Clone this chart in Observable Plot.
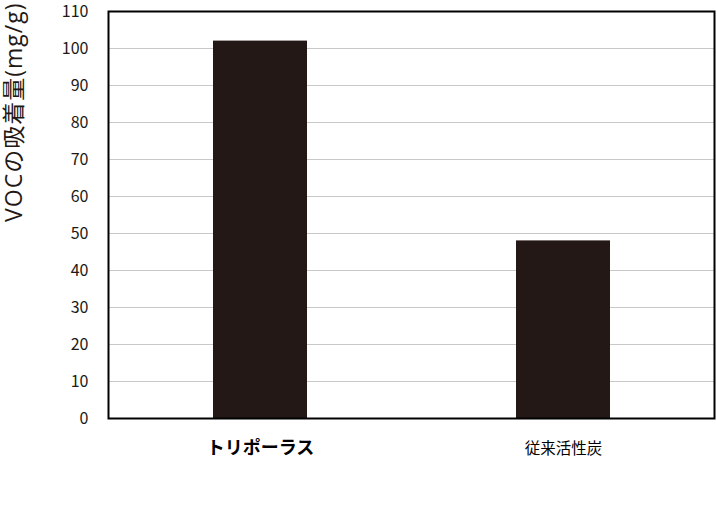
<!DOCTYPE html>
<html>
<head>
<meta charset="utf-8">
<script src="https://cdn.jsdelivr.net/npm/d3@7"></script>
<script src="https://cdn.jsdelivr.net/npm/@observablehq/plot@0.6"></script>
<style>
  html, body { margin: 0; padding: 0; background: #fff; }
</style>
</head>
<body>
<div id="chart"></div>
<script>
const categories = ["トリポーラス", "従来活性炭"];
const values = [102, 48];
const yTicks = [0, 10, 20, 30, 40, 50, 60, 70, 80, 90, 100, 110];
const gridTicks = [10, 20, 30, 40, 50, 60, 70, 80, 90, 100];
const yLabel = "VOCの吸着量(mg/g)";

const data = categories.map((c, i) => ({cat: c, val: values[i]}));

const chart = Plot.plot({
  width: 717,
  height: 507,
  marginLeft: 108,
  marginRight: 3,
  marginTop: 11,
  marginBottom: 89,
  style: {fontFamily: "'Noto Sans CJK JP', sans-serif", background: "#fff", color: "#231815"},
  x: {domain: categories, paddingInner: 0.69, paddingOuter: 0.342, axis: null},
  y: {domain: [0, 110], axis: null},
  marks: [
    Plot.gridY(gridTicks, {stroke: "#c8c8c8", strokeOpacity: 1, strokeWidth: 1}),
    Plot.barY(data, {x: "cat", y: "val", fill: "#231815"}),
    Plot.frame({stroke: "#000", strokeWidth: 2}),
    Plot.axisY(yTicks, {tickSize: 0, tickPadding: 20, fontSize: 16, label: null, fill: "#231815"}),
    Plot.text([data[0]], {x: "cat", y: 0, text: "cat", dy: 30, fontSize: 18, fontWeight: "bold", fill: "#000"}),
    Plot.text([data[1]], {x: "cat", y: 0, text: "cat", dy: 31, fontSize: 15.5, fill: "#000"}),
    Plot.text([yLabel], {frameAnchor: "top-left", dx: -94, dy: -9, rotate: -90, textAnchor: "end", lineAnchor: "middle", fontSize: 23, fontFamily: "'Open Sans', 'Noto Sans CJK JP', sans-serif", fill: "#231815"})
  ]
});
d3.select(chart).selectAll("text").filter(function () { return this.textContent === yLabel; }).style("letter-spacing", "1px");
document.getElementById("chart").appendChild(chart);
</script>
</body>
</html>
